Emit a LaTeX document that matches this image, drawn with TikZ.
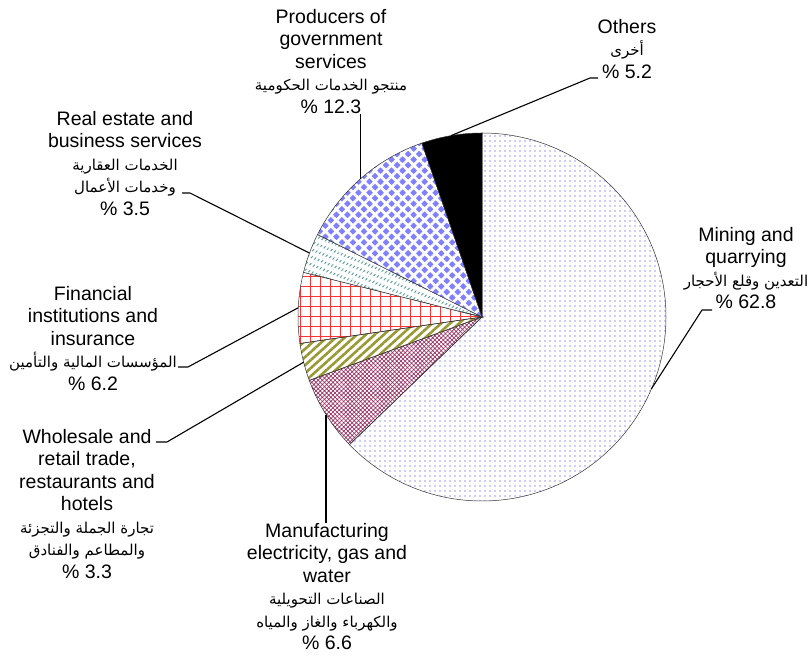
\documentclass[tikz,border=0pt]{standalone}
\usepackage{fontspec}
\setmainfont{Liberation Sans}
\newfontfamily\arabicfont[Script=Arabic]{DejaVu Sans}
\TeXXeTstate=1
\usetikzlibrary{patterns.meta, calc, positioning}

\definecolor{minecol}{HTML}{9A9AFF}
\definecolor{manucol}{HTML}{993366}
\definecolor{whocol}{HTML}{999933}
\definecolor{fincol}{HTML}{FF3333}
\definecolor{recol}{HTML}{5F9F9F}
\definecolor{prodcol}{HTML}{8080FF}

\newcommand{\artext}[1]{{\arabicfont\fontsize{15}{22.5}\selectfont\beginR #1\endR}}

\begin{document}
\begin{tikzpicture}[x=1pt, y=1pt,
  slice/.style={draw=black!80, line width=0.5pt},
  leader/.style={draw=black, line width=1.1pt},
  lbl/.style={align=center, inner sep=0pt, anchor=north, font=\fontsize{19.5}{22.5}\selectfont}]

  \useasboundingbox (0,0) rectangle (812,656);
  \coordinate (c) at (482,339);

  % Slices
  \path[slice, pattern={Dots[distance=5pt, radius=0.85pt]}, pattern color=minecol]
    (c) -- ++(90:184) arc (90:-136.08:184) -- cycle;
  \path[slice, pattern={Hatch[angle=45, distance=3pt, line width=0.7pt]}, pattern color=manucol]
    (c) -- ++(-136.08:184) arc (-136.08:-159.84:184) -- cycle;
  \path[slice, pattern={Lines[angle=42, distance=6pt, line width=2.6pt]}, pattern color=whocol]
    (c) -- ++(-159.84:184) arc (-159.84:-171.72:184) -- cycle;
  \path[slice, pattern={Hatch[angle=0, distance=10pt, line width=0.5pt]}, pattern color=fincol]
    (c) -- ++(-171.72:184) arc (-171.72:-194.04:184) -- cycle;
  \path[slice, preaction={pattern={Lines[angle=50, distance=3.5pt, line width=1pt]}, pattern color=recol},
    pattern={Lines[angle=-22, distance=7pt, line width=4.2pt]}, pattern color=white]
    (c) -- ++(-194.04:184) arc (-194.04:-206.64:184) -- cycle;
  \path[slice, preaction={fill=prodcol}, pattern={Hatch[angle=45, distance=7.8pt, line width=2.8pt]}, pattern color=white]
    (c) -- ++(-206.64:184) arc (-206.64:-250.92:184) -- cycle;
  \path[slice, fill=black]
    (c) -- ++(-250.92:184) arc (-250.92:-270:184) -- cycle;

  % Points on the rim
  \coordinate (mine-pt)  at ([shift={(-23.04:184)}]c);
  \coordinate (manu-pt)  at ([shift={(-147.96:184)}]c);
  \coordinate (who-pt)   at ([shift={(-165.78:184)}]c);
  \coordinate (fin-pt)   at ([shift={(-182.88:184)}]c);
  \coordinate (re-pt)    at ([shift={(-200.34:184)}]c);
  \coordinate (prod-pt)  at ([shift={(-228.78:184)}]c);
  \coordinate (oth-pt)   at ([shift={(-260.32:184)}]c);

  % Labels
  \node[lbl] (prod) at (331,647) {Producers of\\government\\services\\
    \artext{منتجو الخدمات الحكومية}\\\% 12.3};
  \node[lbl] (oth) at (627,637) {Others\\\artext{أخرى}\\\% 5.2};
  \node[lbl] (mine) at (746,429) {Mining and\\quarrying\\
    \artext{التعدين وقلع الأحجار}\\\% 62.8};
  \node[lbl] (realest) at (125,545) {Real estate and\\business services\\
    \artext{الخدمات العقارية}\\\artext{وخدمات الأعمال}\\\% 3.5};
  \node[lbl] (fin) at (93,370) {Financial\\institutions and\\insurance\\
    \artext{المؤسسات المالية والتأمين}\\\% 6.2};
  \node[lbl] (whole) at (87,227) {Wholesale and\\retail trade,\\restaurants and\\hotels\\
    \artext{تجارة الجملة والتجزئة}\\\artext{والمطاعم والفنادق}\\\% 3.3};
  \node[lbl] (manu) at (327,133) {Manufacturing\\electricity, gas and\\water\\
    \artext{الصناعات التحويلية}\\\artext{والكهرباء والغاز والمياه}\\\% 6.6};

  % Leaders
  \coordinate (mine-tick) at (712,346);
  \coordinate (oth-tick) at (598,578);
  \coordinate (re-tick) at (182,463);
  \coordinate (fin-tick) at (178,289);
  \coordinate (who-tick) at (156,214);
  \draw[leader] (mine-pt) -- (mine-tick -| 702,0) -- (mine-tick);
  \draw[leader] (oth-pt) -- (oth-tick -| 590,0) -- (oth-tick);
  \draw[leader] (prod-pt) -- (prod.south -| prod-pt);
  \draw[leader] (re-pt) -- (re-tick -| 190,0) -- (re-tick);
  \draw[leader] (fin-pt) -- (fin-tick -| 188,0) -- (fin-tick);
  \draw[leader] (who-pt) -- (who-tick -| 167,0) -- (who-tick);
  \draw[leader] (manu-pt) -- (manu.north -| manu-pt);

\end{tikzpicture}
\end{document}
